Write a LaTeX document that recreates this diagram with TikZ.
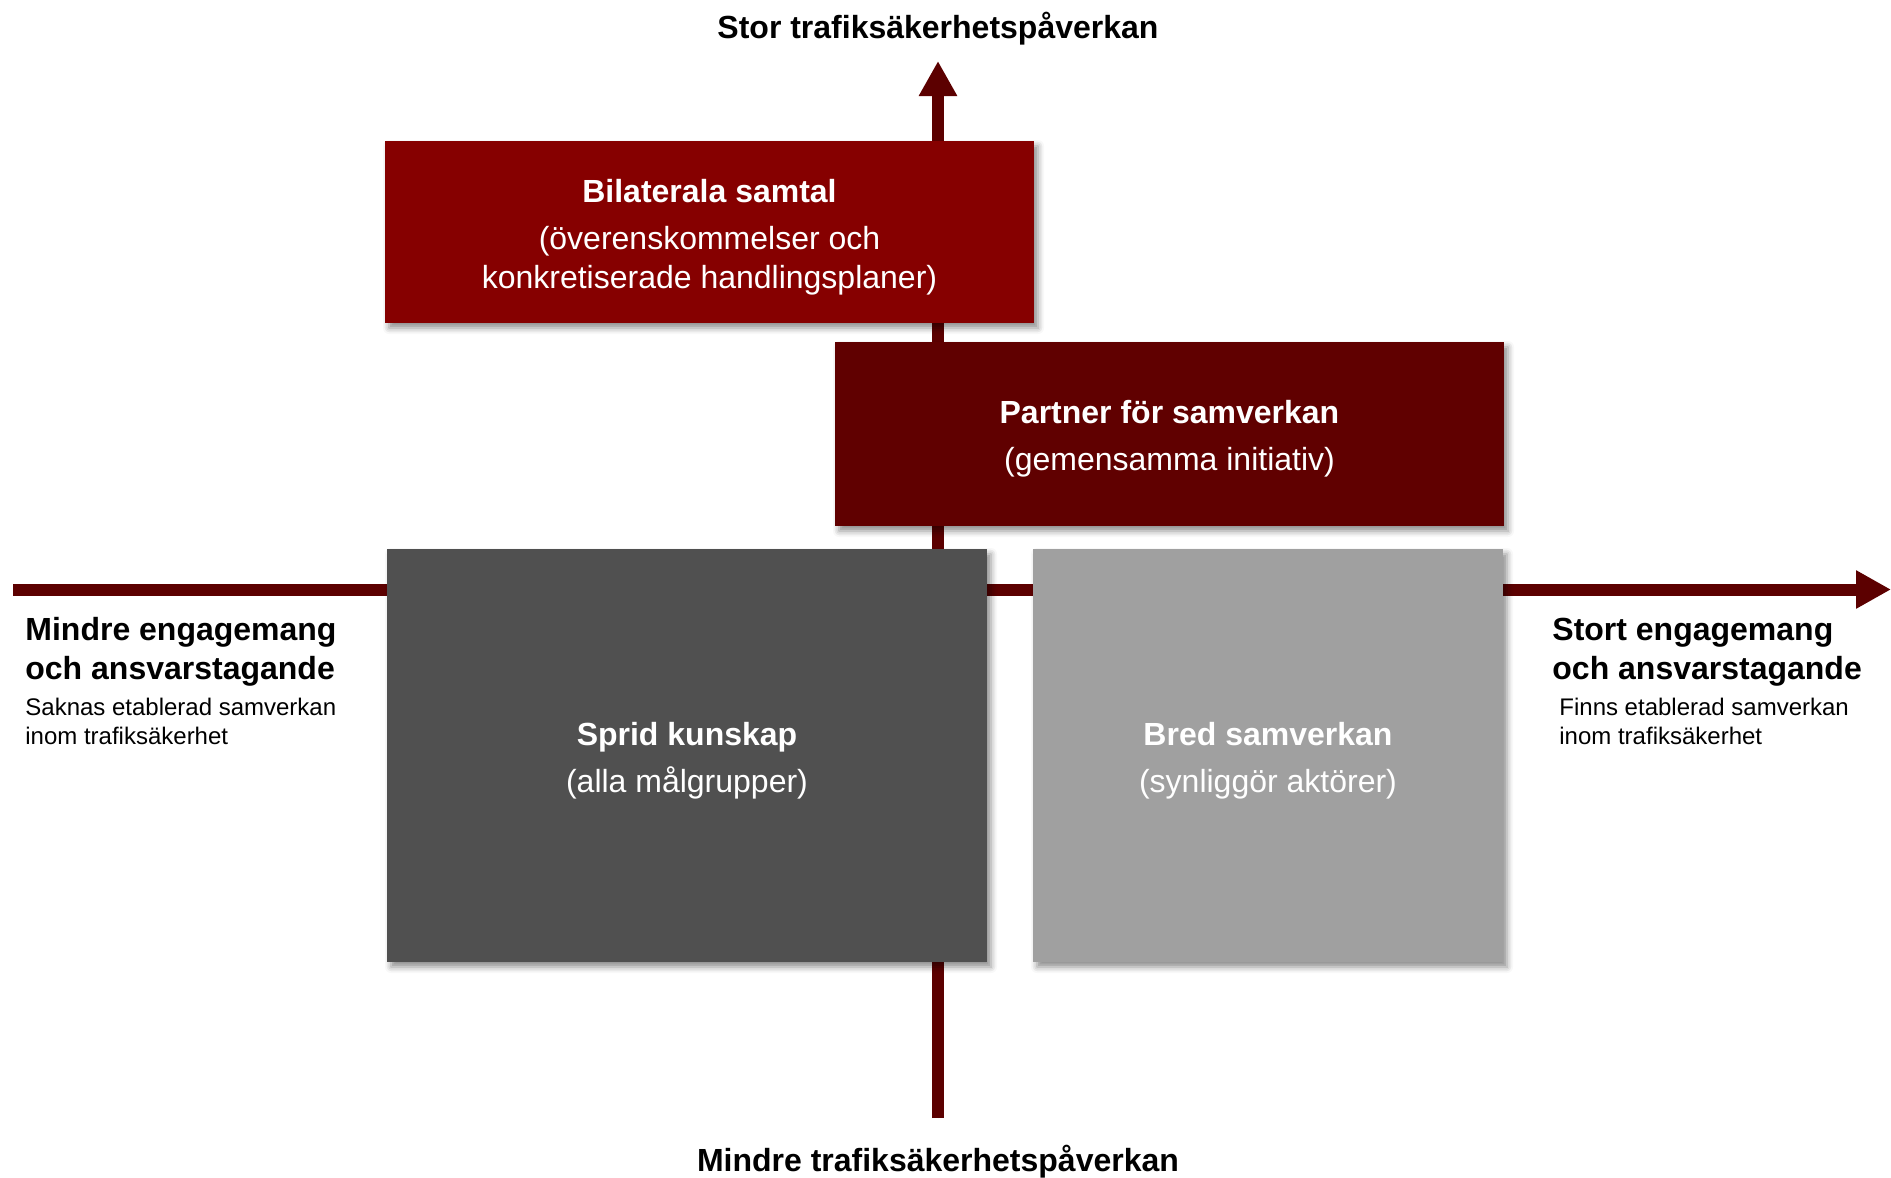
\documentclass[tikz,border=0pt]{standalone}
\usepackage{fontspec}
\setmainfont{Liberation Sans}
\usepackage{tikz}
\usetikzlibrary{positioning, arrows.meta, shadows.blur}

\definecolor{axisred}{RGB}{92,0,0}
\definecolor{bilatred}{RGB}{134,0,0}
\definecolor{partnerred}{RGB}{96,0,0}
\definecolor{quaddark}{RGB}{80,80,80}
\definecolor{quadlight}{RGB}{160,160,160}

\begin{document}
\begin{tikzpicture}[x=0.5pt, y=-0.5pt]
  \tikzstyle{axis}=[line width=6pt, draw=axisred, fill=axisred, -{Triangle[width=18pt, length=17.5pt]}]
  \tikzstyle{quad}=[rectangle, inner sep=0pt,
    blur shadow={shadow xshift=2pt, shadow yshift=-2.5pt, shadow blur radius=3pt, shadow opacity=45}]
  \tikzstyle{quadtext}=[inner sep=0pt, yshift=-2.5pt, text=white, align=center, font=\fontsize{16}{19.3}\selectfont]
  \tikzstyle{axislbl}=[inner sep=0pt, align=left, font=\bfseries\fontsize{16}{19.3}\selectfont]
  \tikzstyle{sublbl}=[inner sep=0pt, align=left, font=\fontsize{12}{14.5}\selectfont]

  \useasboundingbox (0,0) rectangle (1891,1178);

  % axes
  \coordinate (vbot) at (938,1118);
  \coordinate (vtop) at (938,61);
  \coordinate (hleft) at (13,589.5);
  \coordinate (hright) at (1891,589.5);
  \draw[axis] (vbot) -- (vtop);
  \draw[axis] (hleft) -- (hright);

  % quadrant boxes
  \node (bilat) at (709.5,232) [quad, fill=bilatred, minimum width=324.5pt, minimum height=91pt] {};
  \node (partner) at (1169.5,434) [quad, fill=partnerred, minimum width=334.5pt, minimum height=92pt] {};
  \node (sprid) at (687,755.5) [quad, fill=quaddark, minimum width=300pt, minimum height=206.5pt] {};
  \node (bred) at (1268,755.5) [quad, fill=quadlight, minimum width=235pt, minimum height=206.5pt] {};

  % box texts
  \node (bilattxt) at (bilat.center) [quadtext]
    {\textbf{Bilaterala samtal}\\[4.2pt](överenskommelser och\\konkretiserade handlingsplaner)};
  \node (partnertxt) at (partner.center) [quadtext]
    {\textbf{Partner för samverkan}\\[4.2pt](gemensamma initiativ)};
  \node (spridtxt) at (sprid.center) [quadtext]
    {\textbf{Sprid kunskap}\\[4.2pt](alla målgrupper)};
  \node (bredtxt) at (bred.center) [quadtext]
    {\textbf{Bred samverkan}\\[4.2pt](synliggör aktörer)};

  % axis labels
  \node (stor) at (938,29) [inner sep=0pt, font=\bfseries\fontsize{16}{19.3}\selectfont] {Stor trafiksäkerhetspåverkan};
  \node (mindre) at (938,1162) [inner sep=0pt, font=\bfseries\fontsize{16}{19.3}\selectfont] {Mindre trafiksäkerhetspåverkan};
  \node (leftlbl) at (25,652) [axislbl, anchor=west] {Mindre engagemang\\och ansvarstagande};
  \node (leftsub) at (25,721) [sublbl, anchor=west] {Saknas etablerad samverkan\\inom trafiksäkerhet};
  \node (rightlbl) at (1552,652) [axislbl, anchor=west] {Stort engagemang\\och ansvarstagande};
  \node (rightsub) at (1559,721) [sublbl, anchor=west] {Finns etablerad samverkan\\inom trafiksäkerhet};
\end{tikzpicture}
\end{document}
